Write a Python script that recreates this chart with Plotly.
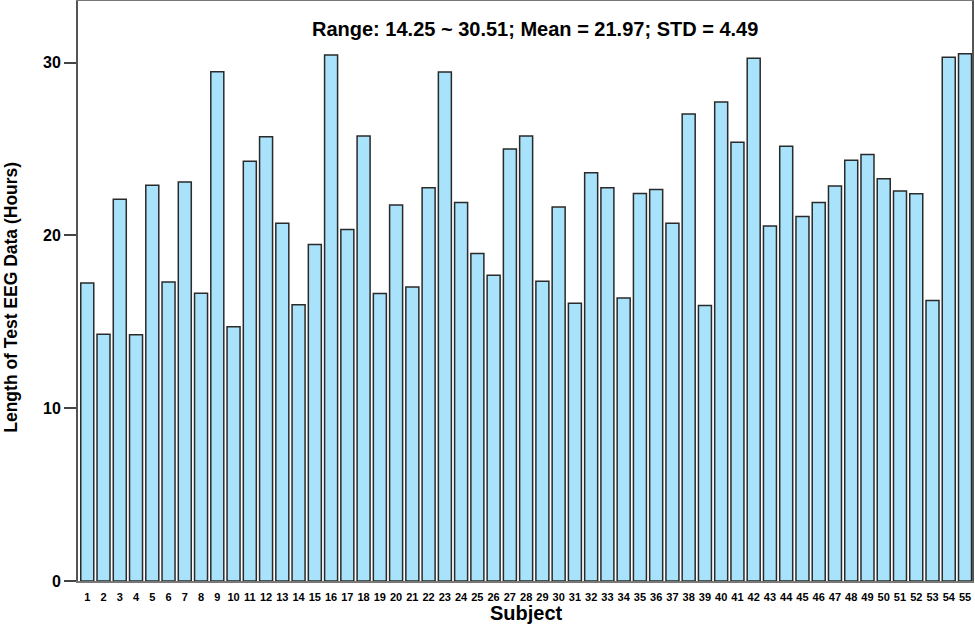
import plotly.graph_objects as go

subjects = list(range(1, 56))
hours = [17.25, 14.28, 22.09, 14.25, 22.91, 17.31, 23.09, 16.65, 29.48, 14.72,
         24.30, 25.71, 20.70, 15.99, 19.48, 30.45, 20.35, 25.75, 16.64, 21.76,
         17.02, 22.76, 29.46, 21.91, 18.96, 17.70, 25.00, 25.75, 17.35, 21.64,
         16.08, 23.63, 22.76, 16.38, 22.43, 22.66, 20.70, 27.03, 15.94, 27.72,
         25.39, 30.25, 20.54, 25.16, 21.10, 21.91, 22.86, 24.35, 24.69, 23.28,
         22.57, 22.41, 16.23, 30.31, 30.51]
tick_labels = [str(s) for s in subjects]
y_ticks = [0, 10, 20, 30]
stats_text = "Range: 14.25 ~ 30.51; Mean = 21.97; STD = 4.49"
x_title = "Subject"
y_title = "Length of Test EEG Data (Hours)"

FONT = "Liberation Sans, Arial, sans-serif"

fig = go.Figure(go.Bar(
    x=subjects, y=hours,
    marker=dict(color="#A8E2FB", line=dict(color="#2a2a2a", width=1.5)),
))

fig.update_layout(
    width=975, height=626,
    margin=dict(l=78, r=3, t=1, b=45, autoexpand=False),
    paper_bgcolor="white", plot_bgcolor="white",
    bargap=0.2,
    showlegend=False,
    font=dict(family=FONT, color="black"),
    annotations=[
        dict(text="<b>" + stats_text + "</b>",
             x=0.511, xref="paper", y=0.952, yref="paper",
             xanchor="center", yanchor="middle",
             showarrow=False, font=dict(size=20, family=FONT, color="black")),
        dict(text="<b>" + x_title + "</b>",
             x=0.502, xref="paper", y=-0.056, yref="paper",
             xanchor="center", yanchor="middle",
             showarrow=False, font=dict(size=20, family=FONT, color="black")),
        dict(text="<b>" + y_title + "</b>", textangle=-90,
             x=-0.075, xref="paper", y=0.49, yref="paper",
             xanchor="center", yanchor="middle",
             showarrow=False, font=dict(size=17.5, family=FONT, color="black")),
    ],
)

fig.update_xaxes(
    range=[0.43, 55.43], automargin=False,
    tickmode="array", tickvals=subjects,
    ticktext=["<b>" + t + "</b>" for t in tick_labels],
    tickfont=dict(size=11, family=FONT),
    ticks="outside", ticklen=5, tickcolor="rgba(0,0,0,0)",
    showgrid=False, zeroline=False,
    showline=True, linecolor="#777", linewidth=1.5, mirror=True,
    tickangle=0,
)

fig.update_yaxes(
    range=[0, 33.57], automargin=False,
    tickmode="array", tickvals=y_ticks,
    ticktext=["<b>" + str(v) + "</b>" for v in y_ticks],
    tickfont=dict(size=16, family=FONT),
    ticks="outside", ticklen=12, tickcolor="#444", tickwidth=1.5,
    showgrid=False, zeroline=False,
    showline=True, linecolor="#555", linewidth=2, mirror=True,
)

fig.write_html("out.html", config={"displayModeBar": False},
               post_script="document.body.style.margin='0';")
